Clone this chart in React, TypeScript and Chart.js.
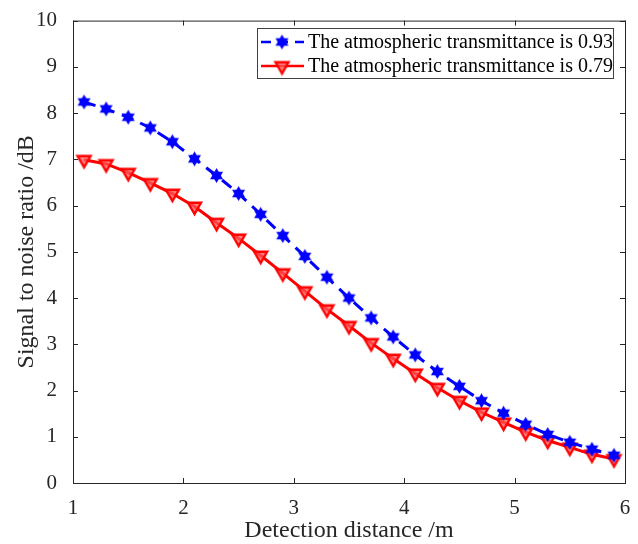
import React, { useEffect, useRef } from "react";
import { Chart, registerables } from "chart.js";
Chart.register(...registerables);

const distances = [1.1, 1.3, 1.5, 1.7, 1.9, 2.1, 2.3, 2.5, 2.7, 2.9, 3.1, 3.3, 3.5, 3.7, 3.9, 4.1, 4.3, 4.5, 4.7, 4.9, 5.1, 5.3, 5.5, 5.7, 5.9];
const snr093 = [8.24, 8.09, 7.91, 7.68, 7.38, 7.01, 6.65, 6.26, 5.81, 5.35, 4.9, 4.45, 4.0, 3.57, 3.16, 2.77, 2.41, 2.09, 1.78, 1.51, 1.27, 1.05, 0.88, 0.73, 0.6];
const snr079 = [6.99, 6.9, 6.71, 6.49, 6.26, 5.98, 5.63, 5.29, 4.92, 4.54, 4.15, 3.76, 3.4, 3.03, 2.69, 2.37, 2.06, 1.78, 1.53, 1.31, 1.1, 0.92, 0.77, 0.62, 0.52];
const labels = ["The atmospheric transmittance is 0.93", "The atmospheric transmittance is 0.79"];
const xTitle = "Detection distance /m";
const yTitle = "Signal to noise ratio /dB";

const FONT = "'Liberation Serif', 'Times New Roman', serif";

function hexagram(color: string, r: number) {
  const c = document.createElement("canvas");
  const s = Math.ceil(r * 2 + 4);
  c.width = s; c.height = s;
  const g = c.getContext("2d")!;
  const cx = s / 2, cy = s / 2;
  g.fillStyle = color;
  for (const off of [-Math.PI / 2, Math.PI / 2]) {
    g.beginPath();
    for (let i = 0; i < 3; i++) {
      const a = off + (i * 2 * Math.PI) / 3;
      const px = cx + r * Math.cos(a), py = cy + r * Math.sin(a);
      if (i === 0) g.moveTo(px, py); else g.lineTo(px, py);
    }
    g.closePath();
    g.fill();
  }
  return c;
}

function triDown(color: string, r: number) {
  const c = document.createElement("canvas");
  const s = Math.ceil(r * 2 + 6);
  c.width = s; c.height = s;
  const g = c.getContext("2d")!;
  const cx = s / 2, cy = s / 2;
  g.strokeStyle = color;
  g.fillStyle = "rgba(255,90,90,0.75)";
  g.lineWidth = 2.4;
  g.beginPath();
  for (let i = 0; i < 3; i++) {
    const a = Math.PI / 2 + (i * 2 * Math.PI) / 3;
    const px = cx + r * Math.cos(a), py = cy + r * Math.sin(a);
    if (i === 0) g.moveTo(px, py); else g.lineTo(px, py);
  }
  g.closePath();
  g.fill();
  g.stroke();
  return c;
}

export default function App() {
  const ref = useRef<HTMLCanvasElement>(null);
  useEffect(() => {
    document.body.style.margin = "0";
    const star = hexagram("#0000ff", 7.5);
    const tri = triDown("#ff0000", 7.5);
    const frame = {
      id: "frame",
      afterDraw(chart: any) {
        const { ctx, chartArea: a, scales } = chart;
        ctx.save();
        ctx.strokeStyle = "#262626";
        ctx.lineWidth = 1;
        ctx.strokeRect(a.left + 0.5, a.top + 0.5, a.right - a.left, a.bottom - a.top);
        const tl = 5;
        ctx.beginPath();
        for (let v = 1; v <= 6; v++) {
          const x = Math.round(scales.x.getPixelForValue(v)) + 0.5;
          ctx.moveTo(x, a.bottom); ctx.lineTo(x, a.bottom - tl);
          ctx.moveTo(x, a.top); ctx.lineTo(x, a.top + tl);
        }
        for (let v = 0; v <= 10; v++) {
          const y = Math.round(scales.y.getPixelForValue(v)) + 0.5;
          ctx.moveTo(a.left, y); ctx.lineTo(a.left + tl, y);
          ctx.moveTo(a.right, y); ctx.lineTo(a.right - tl, y);
        }
        ctx.stroke();
        // legend
        const lx = 257, ly = 28, lw = 356, lh = 50;
        ctx.fillStyle = "#fff";
        ctx.fillRect(lx, ly, lw, lh);
        ctx.strokeStyle = "#404040";
        ctx.strokeRect(lx + 0.5, ly + 0.5, lw, lh);
        const rows = [
          { y: 42, color: "#0000ff", dash: [10, 7], img: star, text: labels[0] },
          { y: 66, color: "#ff0000", dash: [], img: tri, text: labels[1] },
        ];
        for (const r of rows) {
          ctx.strokeStyle = r.color;
          ctx.lineWidth = 2.5;
          ctx.setLineDash(r.dash);
          ctx.beginPath();
          ctx.moveTo(261, r.y); ctx.lineTo(304, r.y);
          ctx.stroke();
          ctx.setLineDash([]);
          ctx.drawImage(r.img, 282 - r.img.width / 2, r.y - r.img.height / 2);
          ctx.fillStyle = "#000";
          ctx.font = `20px ${FONT}`;
          ctx.textBaseline = "middle";
          ctx.textAlign = "left";
          ctx.fillText(r.text, 308, r.y + 1);
        }
        ctx.restore();
      },
    };
    const chart = new Chart(ref.current!, {
      type: "line",
      data: {
        datasets: [
          {
            label: labels[0],
            data: distances.map((x, i) => ({ x, y: snr093[i] })),
            borderColor: "#0000ff",
            backgroundColor: "#0000ff",
            borderWidth: 3,
            borderDash: [12, 8],
            pointStyle: star as any,
            pointRadius: 8,
            tension: 0,
          },
          {
            label: labels[1],
            data: distances.map((x, i) => ({ x, y: snr079[i] })),
            borderColor: "#ff0000",
            backgroundColor: "#ff0000",
            borderWidth: 3,
            pointStyle: tri as any,
            pointRadius: 8,
            tension: 0,
          },
        ],
      },
      options: {
        animation: false,
        responsive: false,
        layout: { padding: { top: 18, right: 13, left: 0, bottom: 0 } },
        plugins: { legend: { display: false }, tooltip: { enabled: false } },
        scales: {
          x: {
            type: "linear",
            min: 1,
            max: 6,
            grid: { display: false },
            border: { display: false },
            ticks: { stepSize: 1, color: "#262626", font: { family: FONT, size: 21 }, padding: 5 },
            title: { display: true, text: xTitle, color: "#262626", font: { family: FONT, size: 24, lineHeight: 1 }, padding: { top: 0, bottom: 1 } },
            afterFit: (s: any) => { s.height = 61; },
          },
          y: {
            type: "linear",
            min: 0,
            max: 10,
            grid: { display: false },
            border: { display: false },
            ticks: { stepSize: 1, color: "#262626", font: { family: FONT, size: 21 }, padding: 8 },
            title: { display: true, text: yTitle, color: "#262626", font: { family: FONT, size: 24, lineHeight: 1 }, padding: { top: 15, bottom: 0 } },
            afterFit: (s: any) => { s.width = 73; },
          },
        },
      },
      plugins: [frame],
    });
    return () => chart.destroy();
  }, []);
  return <canvas ref={ref} width={638} height={544} style={{ display: "block" }} />;
}
